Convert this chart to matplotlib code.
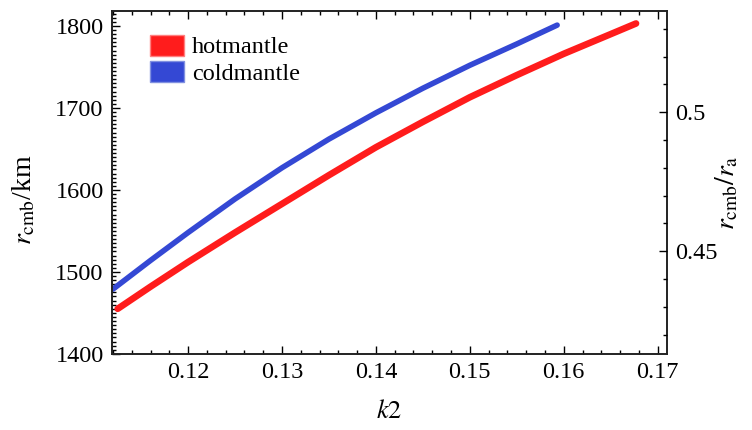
import matplotlib
matplotlib.use("Agg")
import matplotlib.pyplot as plt
from matplotlib.patches import Patch
from matplotlib.ticker import MultipleLocator, FixedLocator

# Mars mean radius (km), used for the right-hand ratio axis
R_MARS = 3389.5

hot_k2 = [0.1125, 0.1160, 0.1200, 0.1250, 0.1300, 0.1350, 0.1400,
          0.1450, 0.1500, 0.1550, 0.1600, 0.1650, 0.1677]
hot_rcmb = [1455, 1482, 1512, 1548, 1583, 1618, 1652,
            1683, 1713, 1740, 1766, 1790, 1803]

cold_k2 = [0.1120, 0.1160, 0.1200, 0.1250, 0.1300, 0.1350, 0.1400,
           0.1450, 0.1500, 0.1550, 0.1593]
cold_rcmb = [1479, 1514, 1548, 1589, 1627, 1662, 1694,
             1724, 1752, 1778, 1801]

x_ticks = [0.12, 0.13, 0.14, 0.15, 0.16, 0.17]
y_ticks = [1400, 1500, 1600, 1700, 1800]
ratio_ticks = [0.45, 0.5]

HOT = "#ff1c1c"
COLD = "#3448d4"

plt.rcParams["font.family"] = ["Liberation Serif", "DejaVu Serif"]
plt.rcParams["mathtext.fontset"] = "stix"

fig = plt.figure(figsize=(7.52, 4.30), dpi=100)
ax = fig.add_axes([0.149, 0.177, 0.738, 0.797])

ax.plot(hot_k2, hot_rcmb, color=HOT, lw=4.8, solid_capstyle="round")
ax.plot(cold_k2, cold_rcmb, color=COLD, lw=4.0, solid_capstyle="round")

ax.set_xlim(0.1119, 0.171)
ax.set_ylim(1400, 1818)
ax.xaxis.set_major_locator(FixedLocator(x_ticks))
ax.xaxis.set_minor_locator(MultipleLocator(0.002))
ax.yaxis.set_major_locator(FixedLocator(y_ticks))
ax.yaxis.set_minor_locator(MultipleLocator(5))
ax.set_xticklabels([f"{t:g}" for t in x_ticks])
ax.set_yticklabels([str(t) for t in y_ticks])

ax.tick_params(which="both", direction="in", top=True, right=False,
               labelsize=17.5, width=1.0, pad=6)
ax.tick_params(which="major", length=6)
ax.tick_params(which="minor", length=3)

for s in ax.spines.values():
    s.set_linewidth(1.4)
    s.set_color("#222222")

ax.set_xlabel(r"$k2$", fontsize=19, labelpad=12)
ax.set_ylabel(r"$r_{\mathrm{cmb}}$/km", fontsize=20)
ax.yaxis.set_label_coords(-0.135, 0.45)

ax2 = ax.twinx()
ax2.set_ylim(1400 / R_MARS, 1818 / R_MARS)
ax2.yaxis.set_major_locator(FixedLocator(ratio_ticks))
ax2.yaxis.set_minor_locator(MultipleLocator(0.01))
ax2.set_yticklabels([f"{t:g}" for t in ratio_ticks])
ax2.tick_params(which="both", direction="in", labelsize=17.5, width=1.0, pad=6)
ax2.tick_params(which="major", length=6)
ax2.tick_params(which="minor", length=3)
ax2.set_ylabel(r"$r_{\mathrm{cmb}}/r_{\mathrm{a}}$", fontsize=20)
ax2.yaxis.set_label_coords(1.085, 0.47)
for s in ax2.spines.values():
    s.set_visible(False)

handles = [
    Patch(facecolor=HOT, edgecolor="#ff8080", label="hotmantle"),
    Patch(facecolor=COLD, edgecolor="#8090e0", label="coldmantle"),
]
ax.legend(handles=handles, loc="upper left", bbox_to_anchor=(0.05, 0.96),
          frameon=False, fontsize=17.5, handlelength=1.4, handleheight=0.95,
          handletextpad=0.35, labelspacing=0.1, borderaxespad=0)

fig.savefig("out.png", dpi=100)
